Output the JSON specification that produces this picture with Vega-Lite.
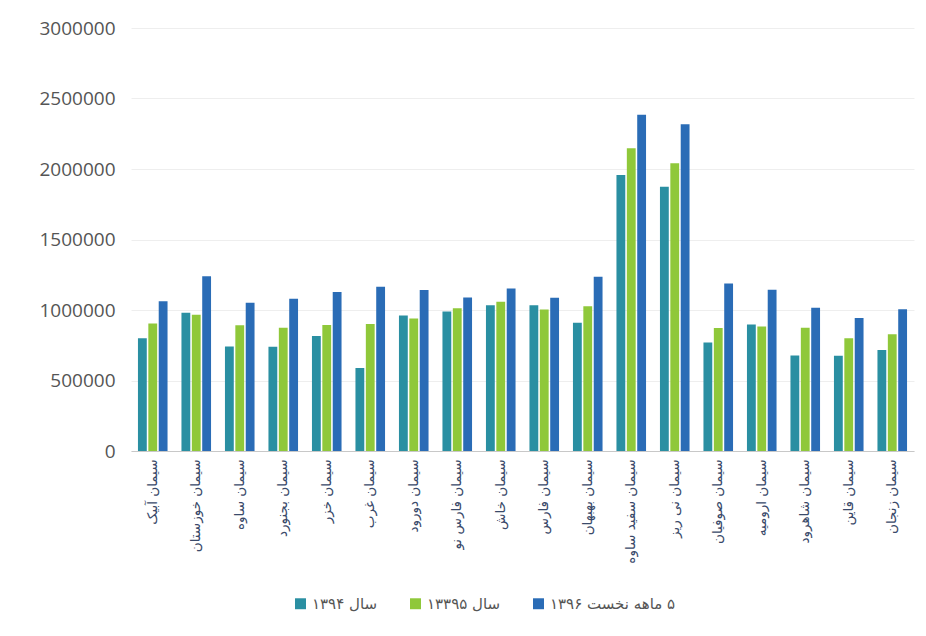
{
  "$schema": "https://vega.github.io/schema/vega-lite/v6.json",
  "width": 783,
  "height": 423,
  "autosize": "none",
  "padding": {"left": 131, "top": 28, "right": 12, "bottom": 185},
  "background": "white",
  "config": {"view": {"stroke": null}},
  "datasets": {
    "rows": [
      {"c": "سیمان آبیک", "s": "سال ۱۳۹۴", "v": 800000},
      {"c": "سیمان آبیک", "s": "سال ۱۳۳۹۵", "v": 904000},
      {"c": "سیمان آبیک", "s": "\u200f۵ ماهه نخست ۱۳۹۶", "v": 1062000},
      {"c": "سیمان خوزستان", "s": "سال ۱۳۹۴", "v": 980000},
      {"c": "سیمان خوزستان", "s": "سال ۱۳۳۹۵", "v": 966000},
      {"c": "سیمان خوزستان", "s": "\u200f۵ ماهه نخست ۱۳۹۶", "v": 1240000},
      {"c": "سیمان ساوه", "s": "سال ۱۳۹۴", "v": 742000},
      {"c": "سیمان ساوه", "s": "سال ۱۳۳۹۵", "v": 892000},
      {"c": "سیمان ساوه", "s": "\u200f۵ ماهه نخست ۱۳۹۶", "v": 1051000},
      {"c": "سیمان بجنورد", "s": "سال ۱۳۹۴", "v": 740000},
      {"c": "سیمان بجنورد", "s": "سال ۱۳۳۹۵", "v": 875000},
      {"c": "سیمان بجنورد", "s": "\u200f۵ ماهه نخست ۱۳۹۶", "v": 1080000},
      {"c": "سیمان خزر", "s": "سال ۱۳۹۴", "v": 816000},
      {"c": "سیمان خزر", "s": "سال ۱۳۳۹۵", "v": 894000},
      {"c": "سیمان خزر", "s": "\u200f۵ ماهه نخست ۱۳۹۶", "v": 1127000},
      {"c": "سیمان غرب", "s": "سال ۱۳۹۴", "v": 588000},
      {"c": "سیمان غرب", "s": "سال ۱۳۳۹۵", "v": 901000},
      {"c": "سیمان غرب", "s": "\u200f۵ ماهه نخست ۱۳۹۶", "v": 1165000},
      {"c": "سیمان دورود", "s": "سال ۱۳۹۴", "v": 961000},
      {"c": "سیمان دورود", "s": "سال ۱۳۳۹۵", "v": 940000},
      {"c": "سیمان دورود", "s": "\u200f۵ ماهه نخست ۱۳۹۶", "v": 1141000},
      {"c": "سیمان فارس نو", "s": "سال ۱۳۹۴", "v": 989000},
      {"c": "سیمان فارس نو", "s": "سال ۱۳۳۹۵", "v": 1013000},
      {"c": "سیمان فارس نو", "s": "\u200f۵ ماهه نخست ۱۳۹۶", "v": 1089000},
      {"c": "سیمان خاش", "s": "سال ۱۳۹۴", "v": 1034000},
      {"c": "سیمان خاش", "s": "سال ۱۳۳۹۵", "v": 1058000},
      {"c": "سیمان خاش", "s": "\u200f۵ ماهه نخست ۱۳۹۶", "v": 1153000},
      {"c": "سیمان فارس", "s": "سال ۱۳۹۴", "v": 1034000},
      {"c": "سیمان فارس", "s": "سال ۱۳۳۹۵", "v": 1003000},
      {"c": "سیمان فارس", "s": "\u200f۵ ماهه نخست ۱۳۹۶", "v": 1087000},
      {"c": "سیمان بهبهان", "s": "سال ۱۳۹۴", "v": 909000},
      {"c": "سیمان بهبهان", "s": "سال ۱۳۳۹۵", "v": 1027000},
      {"c": "سیمان بهبهان", "s": "\u200f۵ ماهه نخست ۱۳۹۶", "v": 1236000},
      {"c": "سیمان سفید ساوه", "s": "سال ۱۳۹۴", "v": 1957000},
      {"c": "سیمان سفید ساوه", "s": "سال ۱۳۳۹۵", "v": 2147000},
      {"c": "سیمان سفید ساوه", "s": "\u200f۵ ماهه نخست ۱۳۹۶", "v": 2384000},
      {"c": "سیمان نی ریز", "s": "سال ۱۳۹۴", "v": 1874000},
      {"c": "سیمان نی ریز", "s": "سال ۱۳۳۹۵", "v": 2040000},
      {"c": "سیمان نی ریز", "s": "\u200f۵ ماهه نخست ۱۳۹۶", "v": 2318000},
      {"c": "سیمان صوفیان", "s": "سال ۱۳۹۴", "v": 769000},
      {"c": "سیمان صوفیان", "s": "سال ۱۳۳۹۵", "v": 873000},
      {"c": "سیمان صوفیان", "s": "\u200f۵ ماهه نخست ۱۳۹۶", "v": 1188000},
      {"c": "سیمان ارومیه", "s": "سال ۱۳۹۴", "v": 897000},
      {"c": "سیمان ارومیه", "s": "سال ۱۳۳۹۵", "v": 883000},
      {"c": "سیمان ارومیه", "s": "\u200f۵ ماهه نخست ۱۳۹۶", "v": 1144000},
      {"c": "سیمان شاهرود", "s": "سال ۱۳۹۴", "v": 678000},
      {"c": "سیمان شاهرود", "s": "سال ۱۳۳۹۵", "v": 875000},
      {"c": "سیمان شاهرود", "s": "\u200f۵ ماهه نخست ۱۳۹۶", "v": 1016000},
      {"c": "سیمان قاین", "s": "سال ۱۳۹۴", "v": 676000},
      {"c": "سیمان قاین", "s": "سال ۱۳۳۹۵", "v": 800000},
      {"c": "سیمان قاین", "s": "\u200f۵ ماهه نخست ۱۳۹۶", "v": 944000},
      {"c": "سیمان زنجان", "s": "سال ۱۳۹۴", "v": 717000},
      {"c": "سیمان زنجان", "s": "سال ۱۳۳۹۵", "v": 828000},
      {"c": "سیمان زنجان", "s": "\u200f۵ ماهه نخست ۱۳۹۶", "v": 1006000}
    ]
  },
  "data": {"name": "rows"},
  "mark": {"type": "bar"},
  "encoding": {
    "x": {
      "field": "c",
      "type": "nominal",
      "sort": null,
      "title": null,
      "scale": {"paddingInner": 0.32, "paddingOuter": 0.16},
      "axis": {
        "labelAngle": -90,
        "labelFont": "DejaVu Sans",
        "labelFontSize": 13.5,
        "labelColor": "#3a4a6a",
        "labelPadding": 8,
        "ticks": false,
        "domainColor": "#c8c8c8",
        "domainWidth": 1,
        "labelLimit": 200
      }
    },
    "xOffset": {
      "field": "s",
      "type": "nominal",
      "sort": ["سال ۱۳۹۴", "سال ۱۳۳۹۵", "\u200f۵ ماهه نخست ۱۳۹۶"],
      "scale": {"paddingInner": 0.15}
    },
    "y": {
      "field": "v",
      "type": "quantitative",
      "title": null,
      "scale": {"domain": [0, 3000000]},
      "axis": {
        "values": [0, 500000, 1000000, 1500000, 2000000, 2500000, 3000000],
        "format": "d",
        "domain": false,
        "ticks": false,
        "labelFont": "Open Sans",
        "labelFontSize": 19,
        "labelColor": "#555555",
        "labelPadding": 16,
        "gridColor": "#eeeeee",
        "gridWidth": 1
      }
    },
    "color": {
      "field": "s",
      "type": "nominal",
      "scale": {
        "domain": ["سال ۱۳۹۴", "سال ۱۳۳۹۵", "\u200f۵ ماهه نخست ۱۳۹۶"],
        "range": ["#2a8fa2", "#8fc83a", "#2a6cb6"]
      },
      "legend": {
        "orient": "none",
        "legendX": 162,
        "legendY": 568,
        "direction": "horizontal",
        "title": null,
        "symbolType": "square",
        "symbolSize": 120,
        "symbolStrokeWidth": 0,
        "labelFont": "DejaVu Sans",
        "labelFontSize": 15,
        "labelColor": "#555555",
        "columnPadding": 30
      }
    }
  }
}
